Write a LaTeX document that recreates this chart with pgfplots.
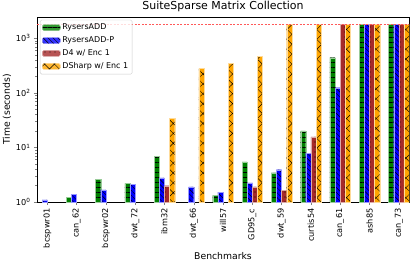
\documentclass[border=0pt]{standalone}
\usepackage{pgfplots}
\pgfplotsset{compat=1.18}
\usepackage{fontspec}
\setmainfont{DejaVu Sans}
\usetikzlibrary{patterns.meta}
\definecolor{mgreen}{RGB}{0,128,0}
\definecolor{mblue}{RGB}{0,0,255}
\definecolor{mbrown}{RGB}{165,42,42}
\definecolor{morange}{RGB}{255,165,0}
\begin{document}
\begin{tikzpicture}
\begin{axis}[
  name=ax,
  scale only axis,
  width=372bp, height=185bp,
  ymode=log,
  ymin=1, ymax=2450,
  log origin=infty,
  xmin=-0.35, xmax=12.35,
  ybar=0pt,
  bar width=0.175,
  xtick={0,...,12},
  xticklabels={bcspwr01,can\_62,bcspwr02,dwt\_72,ibm32,dwt\_66,will57,GD95\_c,dwt\_59,curtis54,can\_61,ash85,can\_73},
  x tick label style={rotate=90, anchor=east, font=\fontsize{8.2}{9}\selectfont},
  ytick={1,10,100,1000},
  yticklabels={10\textsuperscript{0},10\textsuperscript{1},10\textsuperscript{2},10\textsuperscript{3}},
  y tick label style={font=\fontsize{8.2}{9}\selectfont},
  tick align=outside,
  xtick pos=left, ytick pos=left,
  major tick length=3bp, minor tick length=1.8bp,
  axis line style={line width=0.6pt},
  title={SuiteSparse Matrix Collection},
  title style={font=\fontsize{11}{12}\selectfont, yshift=-4bp},
  xlabel={Benchmarks},
  ylabel={Time (seconds)},
  label style={font=\fontsize{9.3}{10}\selectfont},
  xlabel style={yshift=2bp},
  ylabel style={yshift=-2bp},
  legend style={at={(0.008,0.985)}, anchor=north west, font=\fontsize{8}{9.5}\selectfont,
    draw=black!20, rounded corners=1.5pt, fill=white, fill opacity=0.8, text opacity=1,
    row sep=1.6bp, inner sep=2bp},
  legend cell align=left,
  legend image code/.code={\draw[#1] (0bp,-3bp) rectangle (18bp,3bp);},
]
\addplot[fill=mgreen, draw=mgreen!40, line width=0.2pt, bar shift=-0.2625,
  postaction={pattern={Lines[angle=0,distance=5bp,line width=0.4pt]}, pattern color=black}]
  coordinates {(1,1.22) (2,2.6) (3,2.2) (4,6.9) (6,1.33) (7,5.45) (8,3.43) (9,20) (10,442) (11,1800) (12,1800)};
\addlegendentry{RysersADD}
\addplot[fill=mblue, draw=mblue!40, line width=0.2pt, bar shift=-0.0875,
  postaction={pattern={Lines[angle=-45,distance=3.5bp,line width=0.4pt]}, pattern color=black}]
  coordinates {(0,1.09) (1,1.4) (2,1.66) (3,2.13) (4,2.78) (5,1.9) (6,1.5) (7,2.25) (8,3.9) (9,7.8) (10,124) (11,1800) (12,1800)};
\addlegendentry{RysersADD-P}
\addplot[fill=mbrown, draw=mbrown!40, line width=0.2pt, bar shift=0.0875,
  postaction={pattern={Dots[distance=5bp,radius=0.6bp]}, pattern color=black}]
  coordinates {(4,1.99) (7,1.9) (8,1.65) (9,15.6) (10,1800) (11,1800) (12,1800)};
\addlegendentry{D4 w/ Enc 1}
\addplot[fill=morange, draw=morange!40, line width=0.2pt, bar shift=0.2625,
  postaction={pattern={Hatch[angle=45,distance=7bp,line width=0.4pt]}, pattern color=black}]
  coordinates {(4,34) (5,278) (6,352) (7,467) (8,1800) (9,1800) (10,1800) (11,1800) (12,1800)};
\addlegendentry{DSharp w/ Enc 1}
\addplot[red!65, line width=0.7pt, dash pattern=on 2bp off 1.5bp, forget plot, sharp plot]
  coordinates {(-0.35,1800) (12.35,1800)};
\end{axis}
\pgfresetboundingbox
\path ([xshift=-37bp,yshift=-65bp]ax.south west) rectangle ([xshift=6bp,yshift=17bp]ax.north east);
\end{tikzpicture}
\end{document}
